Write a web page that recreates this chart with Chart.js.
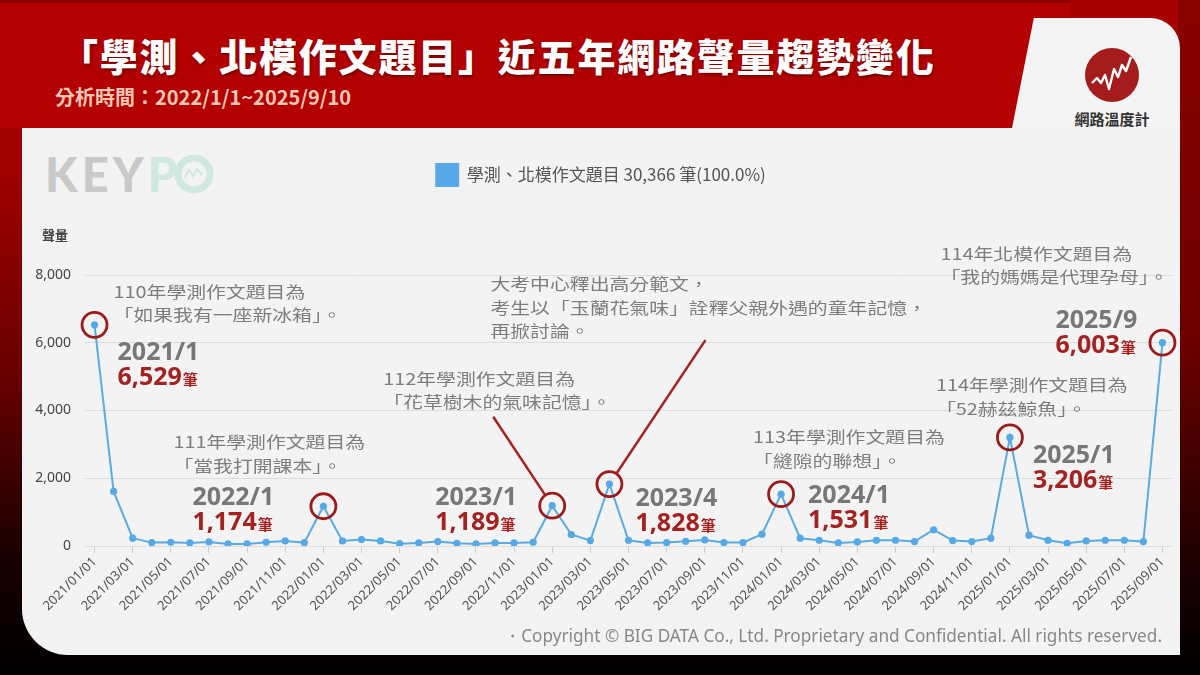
<!DOCTYPE html>
<html>
<head>
<meta charset="utf-8">
<script src="https://cdn.jsdelivr.net/npm/chart.js@4.4.0/dist/chart.umd.min.js"></script>
<style>
  body { margin: 0; width: 1200px; height: 675px; overflow: hidden; background: #000; position: relative;
         font-family: "Noto Sans CJK TC", "Noto Sans", sans-serif; }
  .bg { position: absolute; left: 0; top: 0; width: 1200px; height: 675px;
        background: linear-gradient(180deg, #a80000 0%, #a00000 25%, #6a0000 55%, #1a0000 82%, #000 100%); }
  .bgr { position: absolute; left: 1178px; top: 0; width: 22px; height: 675px;
         background: linear-gradient(180deg, #8a0000 0%, #6e0000 50%, #1a0000 85%, #000 100%); }
  .panel { position: absolute; left: 990px; top: 18px; width: 190px; height: 140px; background: #f4f4f4;
           border-top-right-radius: 30px; }
  .card { position: absolute; left: 22px; top: 126px; width: 1158px; height: 529px; background: #f3f3f3;
          border-bottom-left-radius: 46px; }
  .banner { position: absolute; left: 0; top: 0; width: 1070px; height: 130px; background: #b30000;
            clip-path: polygon(0 0, 1070px 0, 1070px 17px, 1034px 17px, 1012px 128px, 0 128px);
            border-top: 3px solid #8c0000; box-sizing: border-box; }
  .title { position: absolute; left: 60px; top: 33px; font-size: 38px; line-height: 44px; font-weight: 900;
           letter-spacing: 1.8px; color: #fff; white-space: nowrap; text-shadow: 1px 2px 3px rgba(0,0,0,.35); }
  .sub { position: absolute; left: 55px; top: 85px; font-size: 20px; line-height: 24px; font-weight: 700;
         color: #f7c7b5; white-space: nowrap; }
  .brand { position: absolute; left: 1062px; top: 108px; width: 100px; text-align: center; font-size: 15px;
           font-weight: 700; color: #333; }
  .keypo { position: absolute; left: 45px; top: 146px; font-family: Lato, "Noto Sans", sans-serif; font-weight: 900;
           font-size: 47px; line-height: 56px; color: #c9c9c9; letter-spacing: 4px; white-space: nowrap; }
  .keypo span { color: #cfe8e1; }
  .copy { position: absolute; right: 38px; top: 625px; font-family: "Noto Sans", sans-serif; font-size: 17.2px;
          line-height: 22px; color: #888; white-space: nowrap; }
  #wrap { position: absolute; left: 30px; top: 128px; width: 1148px; height: 527px; }
</style>
</head>
<body>
<div class="bg"></div>
<div class="bgr"></div>
<div class="panel"></div>
<div class="card"></div>
<div class="banner"></div>
<div class="title">「學測、北模作文題目」近五年網路聲量趨勢變化</div>
<div class="sub">分析時間：2022/1/1~2025/9/10</div>
<svg style="position:absolute;left:1084px;top:47px" width="56" height="56" viewBox="0 0 56 56">
  <circle cx="28" cy="28" r="27" fill="#a51c1c"/>
  <polyline points="8,36 13,31 17,36 21,28 25,42 30,22 34,30 38,18 42,24 47,10" fill="none" stroke="#fff" stroke-width="2.4" stroke-linejoin="round"/>
</svg>
<div class="brand">網路溫度計</div>
<div class="keypo">KEY<span>P</span></div>
<svg style="position:absolute;left:174px;top:154px" width="40" height="40" viewBox="0 0 40 40">
  <circle cx="20" cy="20" r="16" fill="none" stroke="#cfe8e1" stroke-width="7"/>
  <polyline points="11,23 15,16 19,22 23,15 28,21" fill="none" stroke="#cfe8e1" stroke-width="2"/>
</svg>
<div id="wrap"><canvas id="c" width="1148" height="527"></canvas></div>
<div class="copy">・Copyright © BIG DATA Co., Ltd. Proprietary and Confidential. All rights reserved.</div>

<script>
const months = [
  '2021/01/01','2021/02/01','2021/03/01','2021/04/01','2021/05/01','2021/06/01','2021/07/01','2021/08/01','2021/09/01','2021/10/01','2021/11/01','2021/12/01',
  '2022/01/01','2022/02/01','2022/03/01','2022/04/01','2022/05/01','2022/06/01','2022/07/01','2022/08/01','2022/09/01','2022/10/01','2022/11/01','2022/12/01',
  '2023/01/01','2023/02/01','2023/03/01','2023/04/01','2023/05/01','2023/06/01','2023/07/01','2023/08/01','2023/09/01','2023/10/01','2023/11/01','2023/12/01',
  '2024/01/01','2024/02/01','2024/03/01','2024/04/01','2024/05/01','2024/06/01','2024/07/01','2024/08/01','2024/09/01','2024/10/01','2024/11/01','2024/12/01',
  '2025/01/01','2025/02/01','2025/03/01','2025/04/01','2025/05/01','2025/06/01','2025/07/01','2025/08/01','2025/09/01'
]

// 每月聲量
const volume = [
  6529, 1610, 230, 100, 110, 90, 120, 60, 60, 110, 150, 100,
  1174, 150, 190, 150, 70, 90, 130, 80, 60, 90, 90, 110,
  1189, 340, 160, 1828, 170, 90, 100, 140, 180, 100, 100, 350,
  1531, 230, 170, 90, 120, 170, 170, 130, 480, 160, 130, 230,
  3206, 320, 170, 80, 150, 170, 170, 130, 6003
]

const seriesName = '學測、北模作文題目 30,366 筆(100.0%)'
const yTicks = [0, 2000, 4000, 6000, 8000]

// 標註的高峰月份與說明文字
const peakIndex = [0, 12, 24, 27, 36, 48, 56]
const peakNotes = [
  ['110年學測作文題目為', '「如果我有一座新冰箱」。'],
  ['111年學測作文題目為', '「當我打開課本」。'],
  ['112年學測作文題目為', '「花草樹木的氣味記憶」。'],
  ['大考中心釋出高分範文，', '考生以「玉蘭花氣味」詮釋父親外遇的童年記憶，', '再掀討論。'],
  ['113年學測作文題目為', '「縫隙的聯想」。'],
  ['114年學測作文題目為', '「52赫茲鯨魚」。'],
  ['114年北模作文題目為', '「我的媽媽是代理孕母」。']
]

const CJK = '"Noto Sans CJK TC", "Noto Sans", sans-serif'
const RED = '#a32323'

// offsets from each peak point: note (nx, ny), date/value (dx, dy), leader line start (lx, ly)
const placement = [
  { nx: 19, ny: -33, dx: 23, dy: 26 },
  { nx: -150, ny: -64, dx: -131, dy: -10 },
  { nx: -169, ny: -127, dx: -117, dy: -10, lx: -59, ly: -89 },
  { nx: -119, ny: -200, dx: 26, dy: 13, lx: 96, ly: -144 },
  { nx: -28, ny: -57, dx: 27, dy: 0 },
  { nx: -74, ny: -52, dx: 23, dy: 17 },
  { nx: -222, ny: -89, dx: -107, dy: -24 }
]

function shortDate(s) {
  const p = s.split('/')
  return p[0] + '/' + parseInt(p[1], 10)
}

function wideText(ctx, s, x, y) {
  ctx.save()
  ctx.translate(x, y)
  ctx.scale(1.24, 1)
  ctx.fillText(s, 0, 0)
  ctx.restore()
}

const legendGap = {
  id: 'legendGap',
  beforeInit(chart) {
    const fit = chart.legend.fit
    chart.legend.fit = function () {
      fit.bind(chart.legend)()
      this.height += 79
    }
  }
}

const callouts = {
  id: 'callouts',
  afterDatasetsDraw(chart) {
    const { ctx, chartArea, scales } = chart
    ctx.save()
    // y axis title
    ctx.fillStyle = '#444'
    ctx.font = 'bold 13px ' + CJK
    ctx.textBaseline = 'middle'
    ctx.textAlign = 'left'
    ctx.fillText('聲量', chartArea.left - 43, chartArea.top - 40)

    peakIndex.forEach((idx, k) => {
      const px = scales.x.getPixelForValue(idx)
      const py = scales.y.getPixelForValue(volume[idx])
      const pl = placement[k]

      ctx.strokeStyle = '#9b1a1a'
      ctx.lineWidth = 2.8
      ctx.beginPath()
      ctx.arc(px, py, 12.5, 0, Math.PI * 2)
      ctx.stroke()

      if (pl.lx !== undefined) {
        const len = Math.hypot(pl.lx, pl.ly)
        const t = (len - 13) / len
        ctx.strokeStyle = RED
        ctx.lineWidth = 2.5
        ctx.beginPath()
        ctx.moveTo(px + pl.lx, py + pl.ly)
        ctx.lineTo(px + pl.lx - pl.lx * t, py + pl.ly - pl.ly * t)
        ctx.stroke()
      }

      ctx.fillStyle = '#7d7d7d'
      ctx.font = '16px ' + CJK
      ctx.textBaseline = 'middle'
      peakNotes[k].forEach((line, j) => {
        wideText(ctx, line, px + pl.nx, py + pl.ny + j * 23.5)
      })

      ctx.textBaseline = 'alphabetic'
      ctx.font = 'bold 25px "Noto Sans", sans-serif'
      ctx.fillStyle = '#777'
      ctx.fillText(shortDate(months[idx]), px + pl.dx, py + pl.dy + 9)
      const val = volume[idx].toLocaleString('en-US')
      ctx.fillStyle = RED
      ctx.fillText(val, px + pl.dx, py + pl.dy + 34)
      const w = ctx.measureText(val).width
      ctx.font = 'bold 15px ' + CJK
      ctx.fillText('筆', px + pl.dx + w + 1, py + pl.dy + 34)
    })
    ctx.restore()
  }
}

new Chart(document.getElementById('c'), {
  type: 'line',
  data: {
    labels: months,
    datasets: [{
      label: seriesName,
      data: volume,
      borderColor: '#5aaae3',
      backgroundColor: '#56a8e6',
      borderWidth: 2,
      pointRadius: 3.6,
      pointHoverRadius: 3.6,
      pointBorderWidth: 0,
      tension: 0
    }]
  },
  options: {
    responsive: false,
    animation: false,
    devicePixelRatio: 1,
    layout: { padding: { top: 26, right: 6, left: 0, bottom: 0 } },
    plugins: {
      legend: {
        labels: {
          boxWidth: 22, boxHeight: 22, padding: 10, color: '#555',
          font: { size: 17, family: CJK }
        }
      },
      tooltip: { enabled: false }
    },
    scales: {
      x: {
        offset: true,
        border: { display: false },
        grid: {
          drawOnChartArea: false, drawTicks: true, tickLength: 7,
          color: c => (c.index % 2 === 0 ? '#cfcfcf' : 'rgba(0,0,0,0)')
        },
        ticks: {
          autoSkip: false, maxRotation: 45, minRotation: 45, padding: 1,
          color: '#555', font: { size: 13, family: '"Noto Sans", sans-serif' },
          callback: (v, i) => (i % 2 === 0 ? months[i] : '')
        },
        afterFit: s => { s.height = 109 }
      },
      y: {
        min: 0, max: 8000,
        afterBuildTicks: s => { s.ticks = yTicks.map(v => ({ value: v })) },
        border: { display: false },
        grid: { color: '#dddddd', drawTicks: false },
        ticks: {
          padding: 14, color: '#444', font: { size: 14, family: '"Noto Sans", sans-serif' },
          callback: v => v.toLocaleString('en-US')
        },
        afterFit: s => { s.width = 55 }
      }
    }
  },
  plugins: [legendGap, callouts]
})
</script>
</body>
</html>
